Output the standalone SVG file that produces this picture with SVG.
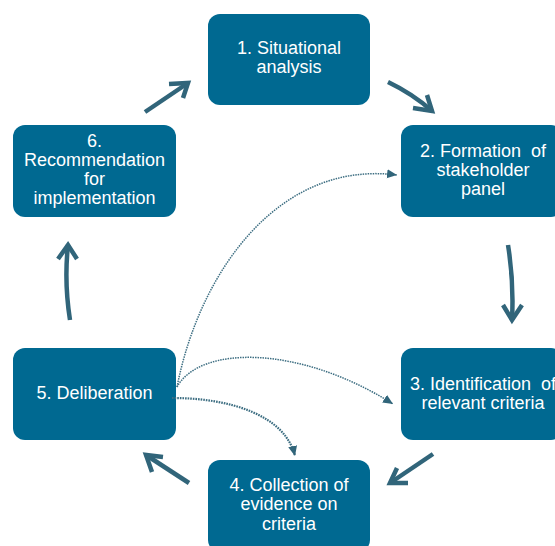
<svg xmlns="http://www.w3.org/2000/svg" width="555" height="546" viewBox="0 0 555 546">
<style>
.box{fill:#006991;}
.lbl{font-family:"Liberation Sans",Arial,sans-serif;font-size:18px;fill:#ffffff;text-anchor:middle;white-space:pre;}
.thick{fill:none;stroke:#31657a;stroke-width:4.5;stroke-linejoin:miter;}
.dot{fill:none;stroke:#3d6e82;stroke-width:1.5;stroke-dasharray:1.5 1;}
.dot2{fill:none;stroke:#3d6e82;stroke-width:2.2;stroke-dasharray:1.6 1;}
</style>
<defs>
<marker id="tri" markerUnits="userSpaceOnUse" markerWidth="12" markerHeight="10" refX="10" refY="4.5" orient="auto">
<path d="M0,0 L10,4.5 L0,9 Z" fill="#31657a"/>
</marker>
</defs>
<rect width="555" height="546" fill="#ffffff"/>
<g id="node1">
<rect class="box" x="208" y="14" width="162" height="91" rx="12"/>
<text class="lbl" x="289" y="53.5">1. Situational</text>
<text class="lbl" x="289" y="72.8">analysis</text>
</g>
<g id="node2">
<rect class="box" x="401" y="125" width="162" height="92" rx="12"/>
<text class="lbl" x="483" y="156.7" xml:space="preserve">2. Formation  of</text>
<text class="lbl" x="483" y="176">stakeholder</text>
<text class="lbl" x="483" y="195.2">panel</text>
</g>
<g id="node3">
<rect class="box" x="401" y="348" width="162" height="92" rx="12"/>
<text class="lbl" x="483" y="389.7" xml:space="preserve">3. Identification  of</text>
<text class="lbl" x="483" y="408.8">relevant criteria</text>
</g>
<g id="node4">
<rect class="box" x="208" y="460" width="162" height="92" rx="12"/>
<text class="lbl" x="289" y="491.3">4. Collection of</text>
<text class="lbl" x="289" y="510.4">evidence on</text>
<text class="lbl" x="289" y="529.7">criteria</text>
</g>
<g id="node5">
<rect class="box" x="13" y="348" width="163" height="92" rx="12"/>
<text class="lbl" x="94.5" y="399">5. Deliberation</text>
</g>
<g id="node6">
<rect class="box" x="13" y="125" width="163" height="92" rx="12"/>
<text class="lbl" x="94.5" y="146.7">6.</text>
<text class="lbl" x="94.5" y="165.8">Recommendation</text>
<text class="lbl" x="94.5" y="185">for</text>
<text class="lbl" x="94.5" y="204.2">implementation</text>
</g>
<g id="connectors">
<path class="thick" d="M145,112 L188,83"/>
<path class="thick" d="M169,84 L188,83 L183,98"/>
<path class="thick" d="M388,82 Q413,94 432,111"/>
<path class="thick" d="M413,108 L432,111 L427,95"/>
<path class="thick" d="M508,245 Q514,282 512,320"/>
<path class="thick" d="M503,305 L512,320 L522,305"/>
<path class="thick" d="M433,454 L390,483"/>
<path class="thick" d="M408,483 L390,483 L397,468"/>
<path class="thick" d="M189,483 L146,455"/>
<path class="thick" d="M163,457 L146,455 L152,472"/>
<path class="thick" d="M70,320 Q64,282 68,245"/>
<path class="thick" d="M58,259 L68,245 L77,259"/>
<path class="dot" d="M177,387 C200,270 280,160 397,175" marker-end="url(#tri)"/>
<path class="dot" d="M177,387 C200,345 300,345 393,404" marker-end="url(#tri)"/>
<path class="dot2" d="M172,398 C230,398 285,415 295,456" marker-end="url(#tri)"/>
</g>
</svg>
